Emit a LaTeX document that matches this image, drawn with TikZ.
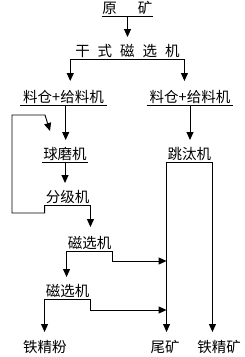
\documentclass[tikz,border=0pt]{standalone}
\usepackage{fontspec}
\newfontfamily\cjk{Noto Sans CJK SC}
\usetikzlibrary{arrows.meta,calc}
\begin{document}
\begin{tikzpicture}[x=1pt,y=1pt,
  lbl/.style={anchor=south, inner xsep=0pt, inner ysep=1pt, font=\cjk\fontsize{14.5}{16}\selectfont},
  endlbl/.style={inner sep=0pt, font=\cjk\fontsize{14.5}{16}\selectfont},
  arr/.style={-{Triangle[length=8pt,width=7pt]}},
  every path/.style={line width=0.9pt}]
\useasboundingbox (0,0) rectangle (245,-357);
% labels with underlines
\node[lbl, minimum width=51pt]  (ore)  at (127.5,-16)  {原\hspace{21pt}矿};
\node[lbl, minimum width=115pt] (dry)  at (127.5,-59)  {干\hspace{8pt}式\hspace{8pt}磁\hspace{8pt}选\hspace{8pt}机};
\node[lbl, minimum width=87pt]  (binL) at (63.5,-105)  {料仓+给料机};
\node[lbl, minimum width=86pt]  (binR) at (190,-105)   {料仓+给料机};
\node[lbl, minimum width=46pt]  (mill) at (65,-162.5)  {球磨机};
\node[lbl, minimum width=45pt]  (jig)  at (189.5,-162) {跳汰机};
\node[lbl, minimum width=45pt]  (cls)  at (67.5,-205)  {分级机};
\node[lbl, minimum width=45pt]  (mag1) at (89.5,-251)  {磁选机};
\node[lbl, minimum width=45pt]  (mag2) at (67.5,-299)  {磁选机};
\node[endlbl] (fine)  at (45,-346.5)  {铁精粉};
\node[endlbl] (tail)  at (165,-346.5) {尾矿};
\node[endlbl] (conc)  at (219,-346.5) {铁精矿};
\foreach \n in {ore,dry,binL,binR,mill,jig,cls,mag1,mag2}
  \draw (\n.south west) -- (\n.south east);
% connectors
\draw[arr] (ore.south) -- (ore.south |- 0,-37);
\draw[arr] ([xshift=0.7pt]dry.south west) -- ([xshift=0.7pt]dry.south west |- 0,-81);
\draw[arr] ([xshift=-1pt]dry.south east) -- ([xshift=-1pt]dry.south east |- 0,-81);
\draw[arr] ([xshift=2.2pt]binL.south) -- ([xshift=2.2pt]binL.south |- 0,-140);
\draw[arr] (binR.south) -- (binR.south |- 0,-140);
\draw[arr] (mill.south) -- (mill.south |- 0,-183);
\draw[arr] (cls.south east) -- (cls.south east |- 0,-227);
\draw[arr] (cls.south west) -- ++(0,-8) -- (12,-213) -- (12,-115) -- (45,-115) -- (50,-131);
\draw[arr] (mag1.south west) -- (mag1.south west |- 0,-277);
\draw[arr] (mag1.south east) -- ++(0,-10) -- (jig.south west |- 0,-261);
\draw[arr] (mag2.south west) -- (mag2.south west |- 0,-332);
\draw[arr] (mag2.south east) -- ++(0,-11) -- (jig.south west |- 0,-310);
\draw[arr] (jig.south west) -- (jig.south west |- 0,-332);
\draw[arr] (jig.south east) -- (jig.south east |- 0,-332);
\end{tikzpicture}
\end{document}
